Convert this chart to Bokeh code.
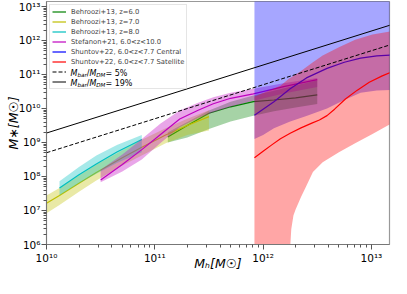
from bokeh.plotting import figure
from bokeh.models import (FixedTicker, CustomJSTickFormatter, Legend, LegendItem,
                          Label, Range1d)
from bokeh.embed import file_html
from bokeh.resources import INLINE

# ---------------- data (log10 values) ----------------
# Behroozi+13, z=6.0
b6_logmh = [11.12, 11.3, 11.5, 11.7, 11.91, 12.1, 12.3, 12.5]
b6_med = [9.16, 9.5, 9.86, 10.05, 10.2, 10.25, 10.31, 10.4]
b6_hi = [9.3, 9.6, 9.94, 10.2, 10.38, 10.52, 10.68, 10.83]
b6_lo = [9.0, 9.15, 9.4, 9.62, 9.79, 9.92, 10.03, 10.13]
# Behroozi+13, z=7.0
b7_logmh = [10.0, 10.12, 10.3, 10.46, 10.7, 10.88, 11.1, 11.3, 11.5]
b7_med = [7.21, 7.44, 7.8, 8.12, 8.55, 8.86, 9.22, 9.5, 9.76]
b7_hi = [7.44, 7.66, 8.03, 8.35, 8.77, 9.08, 9.42, 9.7, 9.95]
b7_lo = [6.92, 7.16, 7.55, 7.88, 8.32, 8.62, 8.98, 9.22, 9.35]
# Behroozi+13, z=8.0
b8_logmh = [10.12, 10.3, 10.46, 10.65, 10.88]
b8_med = [7.66, 8.05, 8.37, 8.72, 9.09]
b8_hi = [7.86, 8.28, 8.62, 8.93, 9.22]
b8_lo = [7.45, 7.8, 8.08, 8.4, 8.71]
# Stefanon+21, 6<z<10
st_logmh = [10.5, 10.7, 10.88, 11.05, 11.23, 11.4, 11.54, 11.7, 11.91, 12.2, 12.5]
st_med = [7.9, 8.35, 8.79, 9.23, 9.69, 9.95, 10.14, 10.3, 10.43, 10.65, 10.85]
st_hi = [8.2, 8.65, 9.1, 9.55, 9.94, 10.17, 10.33, 10.46, 10.58, 10.75, 10.9]
st_lo = [7.83, 8.15, 8.5, 8.98, 9.45, 9.72, 9.89, 10.05, 10.23, 10.45, 10.63]
# Shuntov+22 central
sc_logmh = [11.92, 12.0, 12.1, 12.25, 12.4, 12.59, 12.75, 12.9, 13.05, 13.25]
sc_med = [9.8, 9.98, 10.2, 10.58, 10.9, 11.18, 11.36, 11.48, 11.55, 11.58]
sc_hi = [13.18, 13.18, 13.18, 13.18, 13.18, 13.18, 13.18, 13.18, 13.18, 13.18]
sc_lo = [9.1, 9.22, 9.42, 9.62, 9.78, 10.0, 10.25, 10.46, 10.53, 10.55]
# Shuntov+22 satellite (band)
ss_logmh = [11.92, 12.05, 12.16, 12.24, 12.25, 12.26, 12.28, 12.3, 12.35, 12.4,
            12.46, 12.55, 12.7, 12.85, 13.01, 13.25]
ss_hi = [10.35, 10.52, 10.67, 10.88, 10.9, 10.92, 10.96, 11.0, 11.1, 11.22,
         11.36, 11.56, 11.8, 12.02, 12.18, 12.31]
ss_lo = [4.0, 4.0, 4.0, 4.0, 5.9, 6.45, 6.85, 7.03, 7.4, 7.73,
         8.13, 8.42, 8.71, 8.98, 9.25, 9.68]
# Shuntov+22 satellite (median)
ssm_logmh = [11.92, 12.0, 12.08, 12.16, 12.25, 12.35, 12.45, 12.52, 12.59, 12.66,
             12.76, 12.87, 12.98, 13.1, 13.25]
ssm_med = [8.55, 8.74, 8.93, 9.11, 9.27, 9.43, 9.57, 9.66, 9.79, 9.98,
           10.28, 10.54, 10.77, 10.96, 11.16]
# baryon fraction lines
ratio_logmh = [10.0, 13.25]
ratio_5 = 0.05
ratio_19 = 0.19

labels = ["Behroozi+13, z=6.0", "Behroozi+13, z=7.0", "Behroozi+13, z=8.0",
          "Stefanon+21, 6.0<z<10.0", "Shuntov+22, 6.0<z<7.7 Central",
          "Shuntov+22, 6.0<z<7.7 Satellite"]
x_tick_exp = [10, 11, 12, 13]
y_tick_exp = [6, 7, 8, 9, 10, 11, 12, 13]
x_title = "M\u2095[M\u2609]"
y_title = "M\u2217[M\u2609]"

X_LOG_MAX = 13.167
Y_LOG_MAX = 13.147
FONT = "DejaVu Sans"


def lin(a):
    return [10 ** v for v in a]


p = figure(width=391, height=278, x_axis_type="log", y_axis_type="log",
           x_range=Range1d(1e10, 10 ** X_LOG_MAX), y_range=Range1d(1e6, 10 ** Y_LOG_MAX),
           output_backend="svg", toolbar_location=None,
           min_border_left=46, min_border_right=2, min_border_top=1, min_border_bottom=34)
p.xgrid.visible = False
p.ygrid.visible = False
p.outline_line_color = "#999999"
p.outline_line_width = 1.2
p.background_fill_color = "white"
p.border_fill_color = "white"

bands = [
    (b6_logmh, b6_med, b6_hi, b6_lo, b6_logmh, "#008000"),
    (b7_logmh, b7_med, b7_hi, b7_lo, b7_logmh, "#bfbf00"),
    (b8_logmh, b8_med, b8_hi, b8_lo, b8_logmh, "#00bfbf"),
    (st_logmh, st_med, st_hi, st_lo, st_logmh, "#bf00bf"),
    (sc_logmh, sc_med, sc_hi, sc_lo, sc_logmh, "#0000ff"),
    (ss_logmh, ssm_med, ss_hi, ss_lo, ssm_logmh, "#ff0000"),
]
line_renderers = []
for xs, med, hi, lo, xm, col in bands:
    p.varea(x=lin(xs), y1=lin(lo), y2=lin(hi), fill_color=col, fill_alpha=0.35)
    r = p.line(x=lin(xm), y=lin(med), line_color=col, line_width=1.2)
    line_renderers.append(r)

rx = lin(ratio_logmh)
r5 = p.line(x=rx, y=[ratio_5 * v for v in rx], line_color="black", line_width=1,
            line_dash="4 2")
r19 = p.line(x=rx, y=[ratio_19 * v for v in rx], line_color="black", line_width=1)

# axes
sup = "{'0':'\u2070','1':'\u00b9','2':'\u00b2','3':'\u00b3','4':'\u2074','5':'\u2075','6':'\u2076','7':'\u2077','8':'\u2078','9':'\u2079','-':'\u207b'}"
fmt = CustomJSTickFormatter(code="const s=" + sup + ";const e=Math.round(Math.log10(tick));"
                            "return '10'+String(e).split('').map(c=>s[c]).join('');")


def minors(exps):
    out = []
    for e in range(exps[0] - 1, exps[-1] + 1):
        for m in range(2, 10):
            out.append(m * 10 ** e)
    return out


p.xaxis.ticker = FixedTicker(ticks=[10 ** e for e in x_tick_exp], minor_ticks=minors(x_tick_exp))
p.yaxis.ticker = FixedTicker(ticks=[10 ** e for e in y_tick_exp], minor_ticks=minors(y_tick_exp))
for ax in (p.xaxis, p.yaxis):
    ax.formatter = fmt
    ax.major_label_text_font = FONT
    ax.major_label_text_font_size = "10.5px"
    ax.major_label_text_color = "black"
    ax.axis_line_color = "#777777"
    ax.major_tick_line_color = "#555555"
    ax.minor_tick_line_color = "#555555"
    ax.major_tick_out = 5
    ax.major_tick_in = 0
    ax.minor_tick_out = 3
    ax.minor_tick_in = 0
    ax.axis_label_text_font = FONT
    ax.axis_label_text_font_size = "12.5px"
    ax.axis_label_text_font_style = "italic"
    ax.axis_label_text_color = "black"
p.xaxis.major_label_standoff = 2
p.yaxis.major_label_standoff = 1
p.xaxis.axis_label_standoff = -11
p.yaxis.axis_label_standoff = -5
p.xaxis.axis_label = x_title
p.yaxis.axis_label = y_title

# legend
items = [LegendItem(label=lab, renderers=[r]) for lab, r in zip(labels, line_renderers)]
items.append(LegendItem(label=" ", renderers=[r5]))
items.append(LegendItem(label=" ", renderers=[r19]))
legend = Legend(items=items, location="top_left", margin=3, padding=2, spacing=1,
                label_height=9, glyph_height=9, glyph_width=14, label_standoff=5,
                label_text_font=FONT, label_text_font_size="6.8px",
                border_line_color="#cccccc", border_line_width=1,
                background_fill_alpha=0.0)
p.add_layout(legend)

# composed math-like legend labels, anchored at the frame's top-left corner
W = {'M': 0.863, 'b': 0.635, 'a': 0.613, 'r': 0.411, 'D': 0.770, '/': 0.337, ' ': 0.318,
     '=': 0.838, '5': 0.636, '1': 0.636, '9': 0.636, '%': 0.950}


def tw(s, size):
    return sum(W.get(c, 0.6) for c in s) * size


def compose(pieces, x, y, start, base):
    pos = start
    for text, size, italic, drop in pieces:
        p.add_layout(Label(x=x, y=y, x_offset=pos, y_offset=base - drop, text=text,
                           text_font=FONT, text_font_size=f"{size}px",
                           text_font_style="italic" if italic else "normal",
                           text_align="left", text_baseline="alphabetic",
                           text_color="black", level="overlay"))
        pos += tw(text, size)


for i, pct in ((6, "5%"), (7, "19%")):
    pieces = [("M", 8, True, 0), ("bar", 5.6, True, 1.5), ("/", 8, False, 0),
              ("M", 8, True, 0), ("DM", 5.6, True, 1.5), (" = " + pct, 8, False, 0)]
    base = -(3 + 2 + i * 10 + 4.5 + 2.9)
    compose(pieces, 1e10, 10 ** Y_LOG_MAX, 24, base)

open("out.html", "w", encoding="utf-8").write(file_html(p, INLINE))
